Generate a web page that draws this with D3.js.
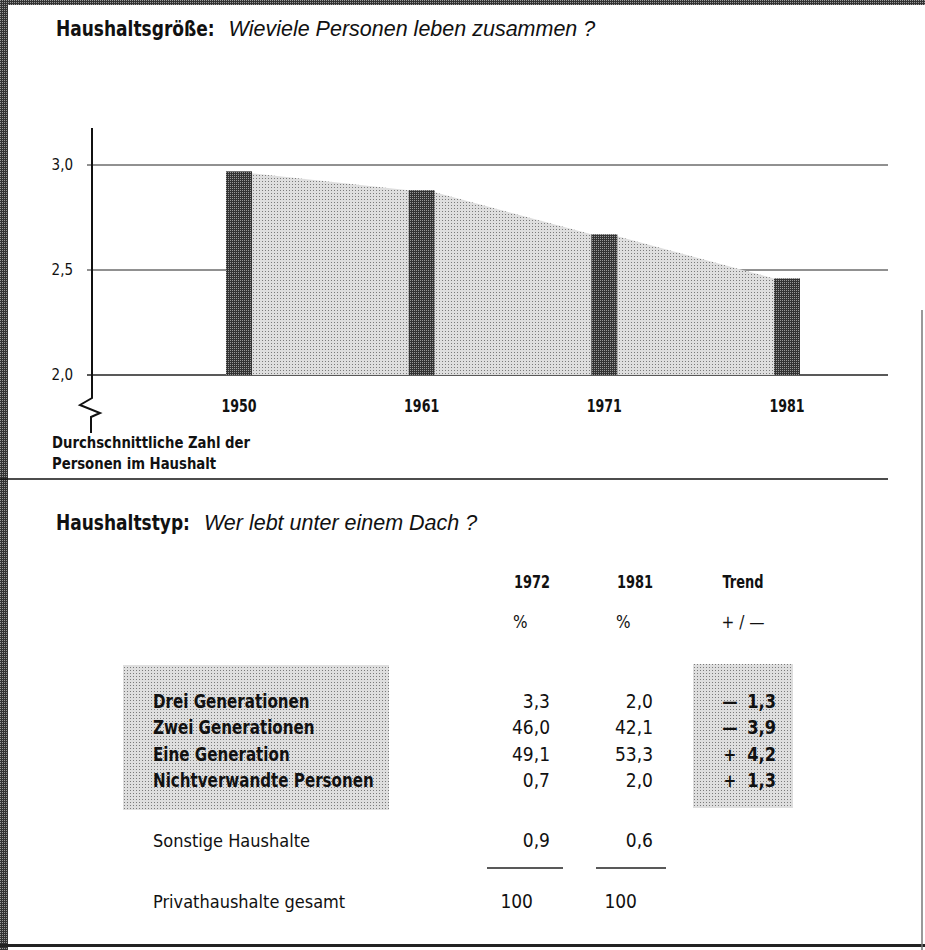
<!DOCTYPE html>
<html>
<head>
<meta charset="utf-8">
<title>Haushaltsgröße und Haushaltstyp</title>
<script src="https://d3js.org/d3.v7.min.js"></script>
<style>
  html, body { margin: 0; padding: 0; background: #fff; }
  text { font-family: "DejaVu Sans Condensed", "Liberation Sans Narrow", sans-serif; fill: #111; }
</style>
</head>
<body>
<script>
// chart data
var years = ["1950", "1961", "1971", "1981"];
var persons = [2.97, 2.88, 2.67, 2.46];
var yTicks = [2.0, 2.5, 3.0];

// table data
var rowLabels = ["Drei Generationen", "Zwei Generationen", "Eine Generation", "Nichtverwandte Personen"];
var val1972 = ["3,3", "46,0", "49,1", "0,7"];
var val1981 = ["2,0", "42,1", "53,3", "2,0"];
var trendSign = ["—", "—", "+", "+"];
var trendVal = ["1,3", "3,9", "4,2", "1,3"];
var headers = ["1972", "1981", "Trend"];
var units = ["%", "%", "+ / —"];
var otherLabel = "Sonstige Haushalte";
var other = ["0,9", "0,6"];
var totalLabel = "Privathaushalte gesamt";
var total = ["100", "100"];

var width = 925, height = 950;
var svg = d3.select("body").append("svg")
    .attr("width", width).attr("height", height);

// squeeze text horizontally to mimic the condensed type of the original
function narrow(sel, k) {
  sel.each(function () {
    var len = this.getComputedTextLength();
    d3.select(this).attr("textLength", len * k).attr("lengthAdjust", "spacingAndGlyphs");
  });
  return sel;
}

// stipple patterns
var defs = svg.append("defs");
var pLight = defs.append("pattern").attr("id", "lightDots")
    .attr("width", 3).attr("height", 3).attr("patternUnits", "userSpaceOnUse");
pLight.append("rect").attr("width", 3).attr("height", 3).attr("fill", "#dedede");
pLight.append("rect").attr("x", 1).attr("y", 1).attr("width", 1).attr("height", 1).attr("fill", "#7a7a7a");
var pDark = defs.append("pattern").attr("id", "darkDots")
    .attr("width", 2).attr("height", 2).attr("patternUnits", "userSpaceOnUse");
pDark.append("rect").attr("width", 2).attr("height", 2).attr("fill", "#333");
pDark.append("rect").attr("width", 1).attr("height", 1).attr("fill", "#999");

// frame
svg.append("rect").attr("x", 0).attr("y", 0).attr("width", 8).attr("height", height).attr("fill", "url(#darkDots)");
svg.append("rect").attr("x", 0).attr("y", 0).attr("width", width).attr("height", 5).attr("fill", "url(#darkDots)");
svg.append("rect").attr("x", 0).attr("y", 944).attr("width", width).attr("height", 3).attr("fill", "#222");
svg.append("line").attr("x1", 922).attr("x2", 922).attr("y1", 310).attr("y2", 950)
    .attr("stroke", "#777").attr("stroke-width", 1.5);

// --- section 1: household size ---
var t1 = svg.append("text").attr("x", 56).attr("y", 36);
narrow(t1.append("tspan").style("font-size", "22px").style("font-weight", "bold").text("Haushaltsgröße:"), 0.86);
t1.append("tspan").attr("dx", 14).style("font-style", "italic").style("font-family", "'Liberation Sans', sans-serif")
  .style("font-size", "21.5px").text("Wieviele Personen leben zusammen ?");

var x = d3.scalePoint().domain(years).range([239, 787]);
var y = d3.scaleLinear().domain([2.0, 3.0]).range([375, 165]);
var barW = 26;
var ax = 92;

// gridlines
svg.append("g").selectAll("line").data(yTicks).join("line")
    .attr("x1", ax - 5).attr("x2", 888)
    .attr("y1", d => y(d)).attr("y2", d => y(d))
    .attr("stroke", "#222").attr("stroke-width", d => d === 2.0 ? 1.6 : 1);

// tick labels
svg.append("g").selectAll("text").data(yTicks).join("text")
    .attr("x", 73).attr("y", d => y(d) + 5).attr("text-anchor", "end")
    .style("font-size", "15px")
    .text(d => d3.format(".1f")(d).replace(".", ","));

// shaded area between the bars
var areaPts = [];
years.forEach(function (yr, i) {
  if (i > 0) areaPts.push([x(yr) - barW / 2, y(persons[i])]);
  if (i < years.length - 1) areaPts.push([x(yr) + barW / 2, y(persons[i]) + 2]);
});
var area = d3.area().x(d => d[0]).y0(y(2.0)).y1(d => d[1]);
svg.append("path").datum(areaPts).attr("d", area).attr("fill", "url(#lightDots)");

// bars
svg.append("g").selectAll("rect").data(persons).join("rect")
    .attr("x", (d, i) => x(years[i]) - barW / 2)
    .attr("y", d => y(d))
    .attr("width", barW)
    .attr("height", d => y(2.0) - y(d))
    .attr("fill", "url(#darkDots)");

// y axis with break mark
svg.append("path")
    .attr("d", "M" + ax + ",128 L" + ax + ",398 L" + (ax - 12) + ",405 L" + (ax + 8) + ",413 L" + (ax - 1) + ",417 L" + (ax - 1) + ",433")
    .attr("fill", "none").attr("stroke", "#111").attr("stroke-width", 2);

// year labels
narrow(svg.append("g").selectAll("text").data(years).join("text")
    .attr("x", d => x(d)).attr("y", 412).attr("text-anchor", "middle")
    .style("font-size", "18px").style("font-weight", "bold")
    .text(d => d), 0.78);

// axis title
narrow(svg.append("text").attr("x", 52).attr("y", 448).style("font-size", "16px").style("font-weight", "bold")
    .text("Durchschnittliche Zahl der"), 0.92);
narrow(svg.append("text").attr("x", 52).attr("y", 469).style("font-size", "16px").style("font-weight", "bold")
    .text("Personen im Haushalt"), 0.92);

// separator
svg.append("line").attr("x1", 0).attr("x2", 888).attr("y1", 479).attr("y2", 479)
    .attr("stroke", "#111").attr("stroke-width", 1.5);

// --- section 2: household type ---
var t2 = svg.append("text").attr("x", 56).attr("y", 530);
narrow(t2.append("tspan").style("font-size", "22px").style("font-weight", "bold").text("Haushaltstyp:"), 0.86);
t2.append("tspan").attr("dx", 14).style("font-style", "italic").style("font-family", "'Liberation Sans', sans-serif")
  .style("font-size", "21.5px").text("Wer lebt unter einem Dach ?");

// column headers (right edges of the number columns, trend centre)
var colRight = [550, 653];
var trendC = 743;
narrow(svg.append("g").selectAll("text").data(headers).join("text")
    .attr("x", (d, i) => i < 2 ? colRight[i] : trendC)
    .attr("y", 588).attr("text-anchor", (d, i) => i < 2 ? "end" : "middle")
    .style("font-size", "18px").style("font-weight", "bold").text(d => d), 0.8);
svg.append("g").selectAll("text").data(units).join("text")
    .attr("x", (d, i) => i < 2 ? colRight[i] - 37 : trendC)
    .attr("y", 628).attr("text-anchor", (d, i) => i < 2 ? "start" : "middle")
    .style("font-size", "17px").text(d => d);

// shaded boxes
svg.append("rect").attr("x", 123).attr("y", 665).attr("width", 266).attr("height", 145).attr("fill", "url(#lightDots)");
svg.append("rect").attr("x", 693).attr("y", 664).attr("width", 100).attr("height", 144).attr("fill", "url(#lightDots)");

var rowY = d3.scalePoint().domain(rowLabels).range([708, 787]);

narrow(svg.append("g").selectAll("text").data(rowLabels).join("text")
    .attr("x", 153).attr("y", d => rowY(d))
    .style("font-size", "20px").style("font-weight", "bold").text(d => d), 0.84);
svg.append("g").selectAll("text").data(val1972).join("text")
    .attr("x", colRight[0]).attr("y", (d, i) => rowY(rowLabels[i])).attr("text-anchor", "end")
    .style("font-size", "19px").text(d => d);
svg.append("g").selectAll("text").data(val1981).join("text")
    .attr("x", colRight[1]).attr("y", (d, i) => rowY(rowLabels[i])).attr("text-anchor", "end")
    .style("font-size", "19px").text(d => d);
svg.append("g").selectAll("text").data(trendSign).join("text")
    .attr("x", 730).attr("y", (d, i) => rowY(rowLabels[i])).attr("text-anchor", "middle")
    .style("font-size", "17px").style("font-weight", "bold").text(d => d);
narrow(svg.append("g").selectAll("text").data(trendVal).join("text")
    .attr("x", 776).attr("y", (d, i) => rowY(rowLabels[i])).attr("text-anchor", "end")
    .style("font-size", "20px").style("font-weight", "bold").text(d => d), 0.9);

// other households
svg.append("text").attr("x", 153).attr("y", 847).style("font-size", "18px").text(otherLabel);
svg.append("g").selectAll("text").data(other).join("text")
    .attr("x", (d, i) => colRight[i]).attr("y", 847).attr("text-anchor", "end")
    .style("font-size", "19px").text(d => d);
svg.append("g").selectAll("line").data([[487, 563], [596, 666]]).join("line")
    .attr("x1", d => d[0]).attr("x2", d => d[1]).attr("y1", 868).attr("y2", 868)
    .attr("stroke", "#222").attr("stroke-width", 1.5);

// total
svg.append("text").attr("x", 153).attr("y", 908).style("font-size", "18px").text(totalLabel);
svg.append("g").selectAll("text").data(total).join("text")
    .attr("x", (d, i) => [533, 637][i]).attr("y", 908).attr("text-anchor", "end")
    .style("font-size", "19px").text(d => d);
</script>
</body>
</html>
